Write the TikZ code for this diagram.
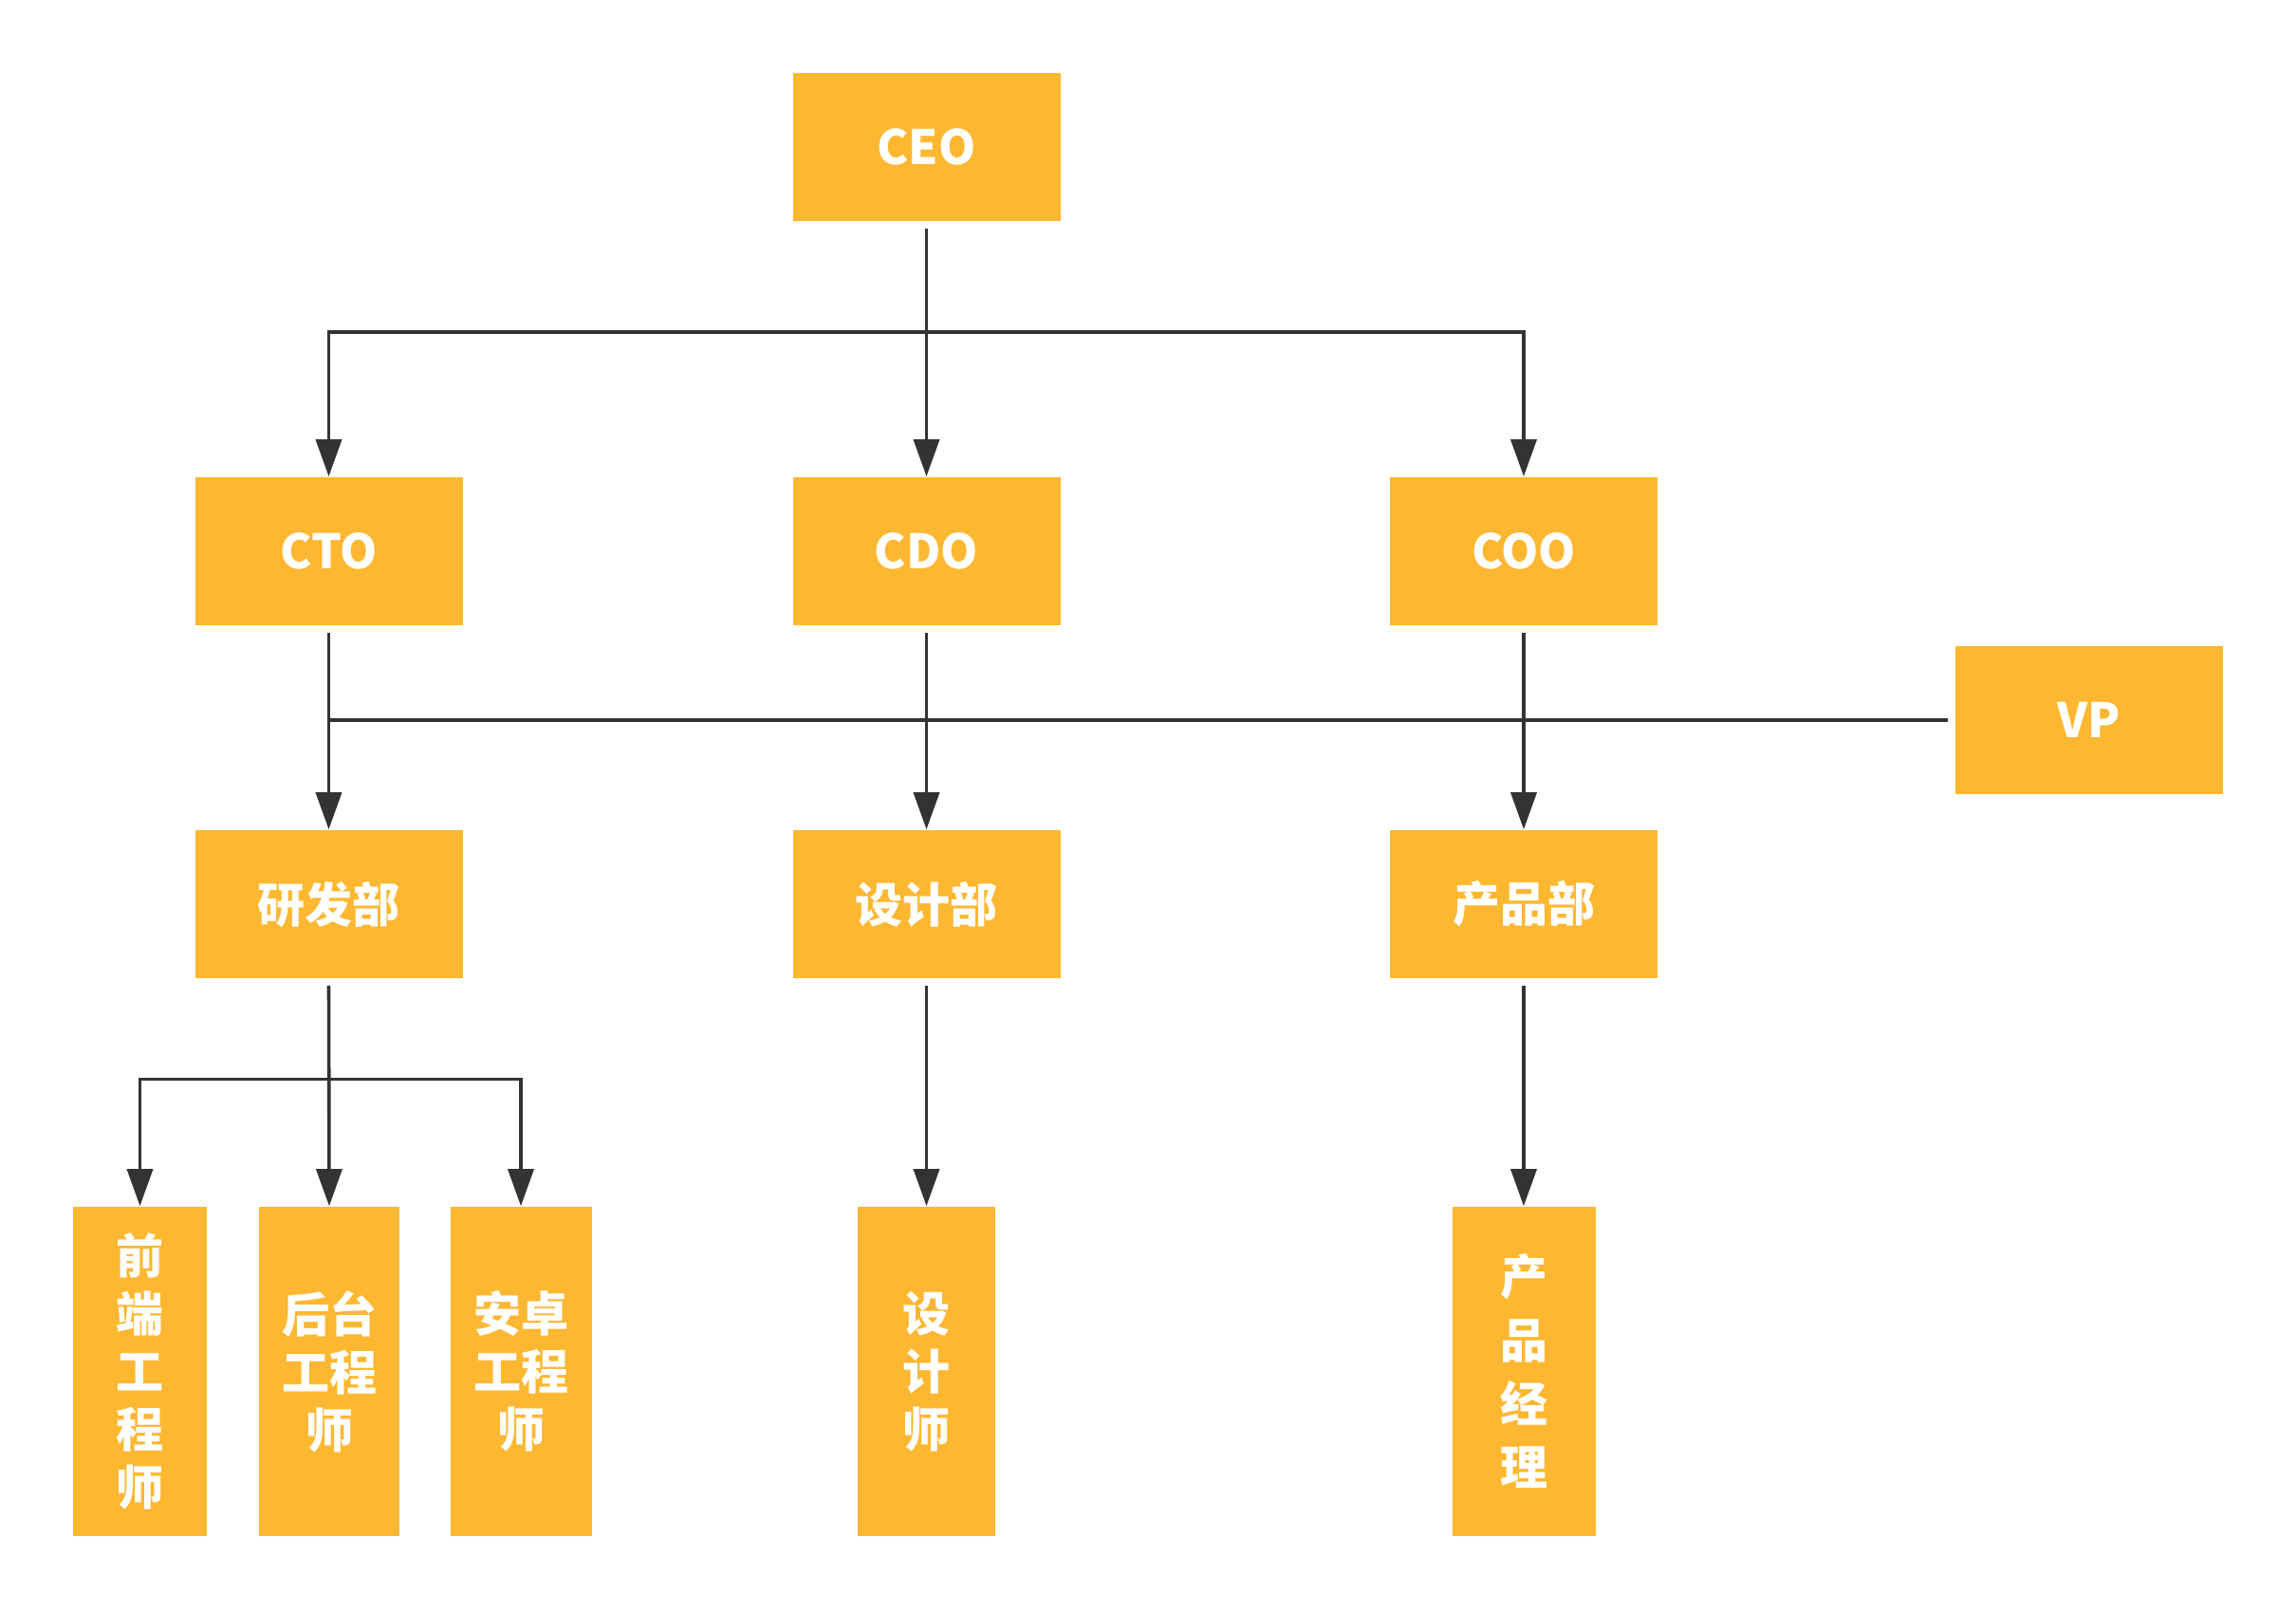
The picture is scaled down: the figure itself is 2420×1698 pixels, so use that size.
\documentclass[tikz,border=0pt]{standalone}
\usepackage{fontspec}
\setmainfont{Noto Sans CJK SC}
\usetikzlibrary{arrows.meta}
\definecolor{boxfill}{HTML}{FEB731}
\definecolor{linec}{HTML}{333333}
\begin{document}
\begin{tikzpicture}[x=0.25pt,y=-0.25pt,
  box/.style={fill=boxfill,draw=none,text=white,font=\bfseries\fontsize{12.5pt}{15.25pt}\selectfont,
    minimum width=70.5pt,minimum height=39pt,inner sep=0pt,align=center},
  tallbox/.style={box,minimum height=86.75pt},
  conn/.style={draw=linec,line width=0.9pt,shorten <=1.75pt},
  arr/.style={conn,-{Triangle[width=6.75pt,length=9.75pt]}}]
\useasboundingbox (0,0) rectangle (2420,1698);
% level 1
\node[box] (ceo) at (976.5,155) {CEO};
% level 2
\node[box] (cto) at (346.5,581) {CTO};
\node[box] (cdo) at (976.5,581) {CDO};
\node[box] (coo) at (1606,581) {COO};
\node[box] (vp) at (2201.5,759) {VP};
% level 3
\node[box] (rd) at (346.5,953) {研发部};
\node[box] (dd) at (976.5,953) {设计部};
\node[box] (pd) at (1606,953) {产品部};
% level 4
\node[tallbox,minimum width=35.25pt] (fe) at (147.5,1445.5) {前\\端\\工\\程\\师};
\node[tallbox,minimum width=37pt] (be) at (347,1445.5) {后台\\工程\\师};
\node[tallbox,minimum width=37.25pt] (an) at (549,1445.5) {安卓\\工程\\师};
\node[tallbox,minimum width=36.25pt] (ds) at (976.5,1445.5) {设\\计\\师};
\node[tallbox,minimum width=37.75pt,font=\bfseries\fontsize{12.5pt}{16.75pt}\selectfont] (pm) at (1606,1445.5) {产\\品\\经\\理};
% bus coordinates
\coordinate (bus1) at (0,350);
\coordinate (bus3) at (0,1137.5);
% connectors
\draw[arr] (ceo.south) -- (ceo.south |- bus1) -| (cto.north);
\draw[arr] (ceo.south) -- (cdo.north);
\draw[arr] (ceo.south) -- (ceo.south |- bus1) -| (coo.north);
\draw[arr] (cto.south) -- (rd.north);
\draw[arr] (cdo.south) -- (dd.north);
\draw[arr] (coo.south) -- (pd.north);
\draw[conn] (vp.west) -- (cto.south |- vp.west);
\draw[arr] (rd.south) -- (rd.south |- bus3) -| (fe.north);
\draw[arr] (rd.south) -- (be.north);
\draw[arr] (rd.south) -- (rd.south |- bus3) -| (an.north);
\draw[arr] (dd.south) -- (ds.north);
\draw[arr] (pd.south) -- (pm.north);
\end{tikzpicture}
\end{document}
